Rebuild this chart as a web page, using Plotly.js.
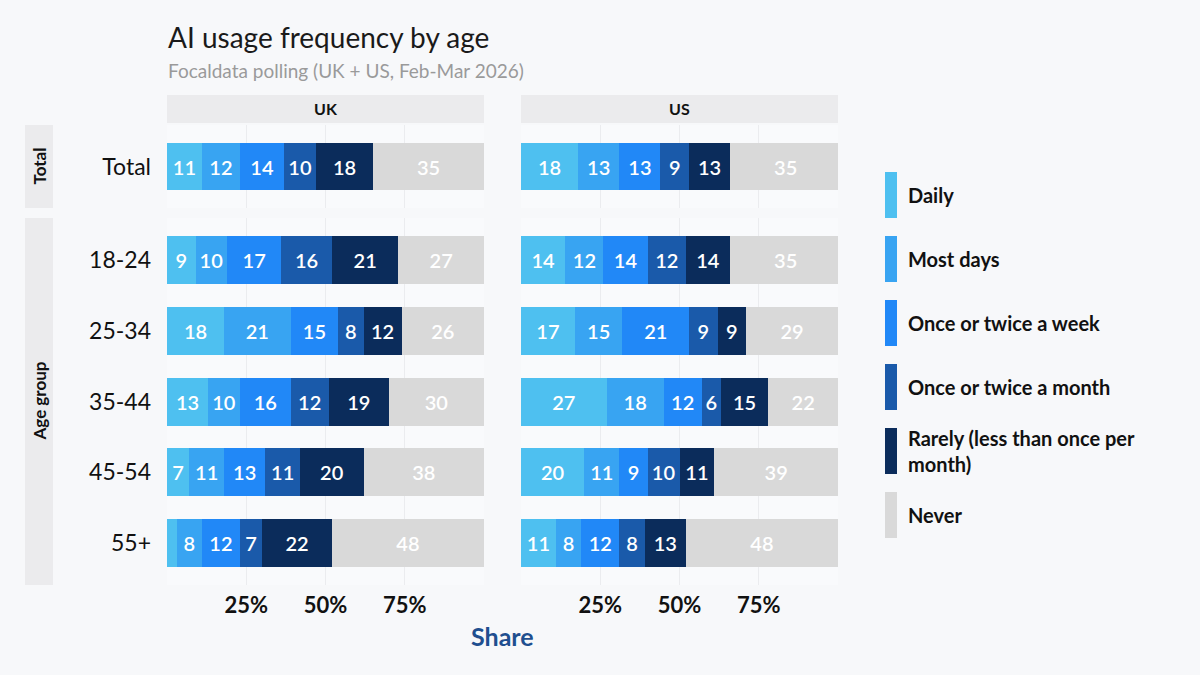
<!DOCTYPE html>
<html>
<head>
<meta charset="utf-8">
<script src="https://cdn.plot.ly/plotly-3.0.1.min.js"></script>
<style>
html,body{margin:0;padding:0;background:#f7f8fa;}
#chart{width:1200px;height:675px;}
</style>
</head>
<body>
<div id="chart"></div>
<script>
// ---- Data ----
const categories = ['Daily', 'Most days', 'Once or twice a week', 'Once or twice a month', 'Rarely (less than once per month)', 'Never'];
const legendLabels = ['Daily', 'Most days', 'Once or twice a week', 'Once or twice a month', 'Rarely (less than once per<br>month)', 'Never'];
const totalGroups = ['Total'];
const ageGroups = ['18-24', '25-34', '35-44', '45-54', '55+'];
const countries = ['UK', 'US'];
const xTickVals = [0, 25, 50, 75, 100];
const xTickText = ['', '25%', '50%', '75%', ''];

// values per row, in category order
const ukTotal = [11, 12, 14, 10, 18, 35];
const usTotal = [18, 13, 13, 9, 13, 35];
const uk18_24 = [9, 10, 17, 16, 21, 27];
const uk25_34 = [18, 21, 15, 8, 12, 26];
const uk35_44 = [13, 10, 16, 12, 19, 30];
const uk45_54 = [7, 11, 13, 11, 20, 38];
const uk55plus = [3, 8, 12, 7, 22, 48];
const us18_24 = [14, 12, 14, 12, 14, 35];
const us25_34 = [17, 15, 21, 9, 9, 29];
const us35_44 = [27, 18, 12, 6, 15, 22];
const us45_54 = [20, 11, 9, 10, 11, 39];
const us55plus = [11, 8, 12, 8, 13, 48];

const ukAgeRows = [uk18_24, uk25_34, uk35_44, uk45_54, uk55plus];
const usAgeRows = [us18_24, us25_34, us35_44, us45_54, us55plus];

// ---- Styles ----
const colors = ['#4ec0f0', '#38a4f2', '#2188f7', '#1a5aaa', '#0b2c5b', '#d9d9d9'];
const FONT = 'Lato, "Open Sans", sans-serif';
const W = 1200, H = 675;
const px = x => x / W;
const py = y => 1 - y / H;

const ukX = [px(167), px(484)];
const usX = [px(521), px(838)];
const totalY = [py(208), py(125)];
const ageY = [py(585), py(218)];

// ---- Traces ----
const traces = [];
function addPanel(rows, groups, xa, ya) {
  categories.forEach((cat, ci) => {
    const vals = rows.map(r => r[ci]);
    traces.push({
      type: 'bar',
      orientation: 'h',
      name: cat,
      x: vals,
      y: groups,
      xaxis: xa,
      yaxis: ya,
      width: 0.68,
      marker: {color: colors[ci], line: {width: 0}},
      text: vals.map(v => v >= 5 ? String(Math.round(v)) : ''),
      textposition: 'inside',
      insidetextanchor: 'middle',
      textangle: 0,
      textfont: {family: FONT, size: 20, color: '#ffffff', weight: 600},
      hoverinfo: 'skip',
      showlegend: false
    });
  });
}
addPanel([ukTotal], totalGroups, 'x', 'y');
addPanel([usTotal], totalGroups, 'x2', 'y2');
addPanel(ukAgeRows, ageGroups, 'x3', 'y3');
addPanel(usAgeRows, ageGroups, 'x4', 'y4');

// ---- Axes ----
function xAxis(domain, anchor, showLabels) {
  return {
    domain: domain, anchor: anchor, range: [0, 100],
    tickvals: xTickVals, ticktext: xTickText,
    showticklabels: showLabels,
    tickfont: {family: FONT, size: 22, color: '#111111', weight: 700},
    ticks: '', ticklabelstandoff: 5,
    showgrid: true, gridcolor: '#ebecef', gridwidth: 1.2,
    zeroline: false, showline: false, fixedrange: true
  };
}
function yAxis(domain, anchor, groups, showLabels) {
  return {
    domain: domain, anchor: anchor, type: 'category',
    categoryorder: 'array', categoryarray: groups,
    range: [groups.length - 0.4, -0.6],
    showticklabels: showLabels,
    tickfont: {family: FONT, size: 23, color: '#111111'},
    ticks: '', ticklabelstandoff: 15,
    showgrid: false, zeroline: false, showline: false, fixedrange: true
  };
}

// ---- Strips, legend ----
const shapes = [];
const annotations = [];
const stripColor = '#ebebed';
[[ukX, countries[0]], [usX, countries[1]]].forEach(([dx, label]) => {
  shapes.push({type: 'rect', xref: 'paper', yref: 'paper', x0: dx[0], x1: dx[1], y0: py(123), y1: py(95), fillcolor: stripColor, line: {width: 0}, layer: 'below'});
  annotations.push({xref: 'paper', yref: 'paper', x: (dx[0] + dx[1]) / 2, y: py(109), text: label, showarrow: false, xanchor: 'center', yanchor: 'middle', font: {family: FONT, size: 16, color: '#111111', weight: 700}});
});
[[totalY, 'Total'], [ageY, 'Age group']].forEach(([dy, label]) => {
  shapes.push({type: 'rect', xref: 'paper', yref: 'paper', x0: px(25), x1: px(53), y0: dy[0], y1: dy[1], fillcolor: stripColor, line: {width: 0}, layer: 'below'});
  annotations.push({xref: 'paper', yref: 'paper', x: px(39), y: (dy[0] + dy[1]) / 2, text: label, showarrow: false, textangle: -90, xanchor: 'center', yanchor: 'middle', font: {family: FONT, size: 17, color: '#111111', weight: 700}});
});
// legend built from the categories/colors
categories.forEach((cat, i) => {
  const cy = 195 + i * 64;
  shapes.push({type: 'rect', xref: 'paper', yref: 'paper', x0: px(885), x1: px(897), y0: py(cy + 23), y1: py(cy - 23), fillcolor: colors[i], line: {width: 0}});
  annotations.push({xref: 'paper', yref: 'paper', x: px(906), y: py(cy), text: legendLabels[i], showarrow: false, xanchor: 'left', yanchor: 'middle', align: 'left', font: {family: FONT, size: 20, color: '#111111', weight: 700}});
});
// titles
annotations.push({xref: 'paper', yref: 'paper', x: px(166), y: py(37), text: 'AI usage frequency by age', showarrow: false, xanchor: 'left', yanchor: 'middle', font: {family: FONT, size: 28, color: '#1a1a1a'}});
annotations.push({xref: 'paper', yref: 'paper', x: px(166), y: py(71), text: 'Focaldata polling (UK + US, Feb-Mar 2026)', showarrow: false, xanchor: 'left', yanchor: 'middle', font: {family: FONT, size: 19, color: '#9a9a9a'}});
annotations.push({xref: 'paper', yref: 'paper', x: px(502.5), y: py(636), text: 'Share', showarrow: false, xanchor: 'center', yanchor: 'middle', font: {family: FONT, size: 25, color: '#1f4f8f', weight: 700}});

const layout = {
  width: W, height: H,
  margin: {l: 0, r: 0, t: 0, b: 0},
  paper_bgcolor: '#f7f8fa',
  plot_bgcolor: '#f9fafc',
  barmode: 'stack',
  bargap: 0.3,
  showlegend: false,
  uniformtext: {mode: 'show', minsize: 20},
  font: {family: FONT},
  xaxis: xAxis(ukX, 'y', false),
  yaxis: yAxis(totalY, 'x', totalGroups, true),
  xaxis2: xAxis(usX, 'y2', false),
  yaxis2: yAxis(totalY, 'x2', totalGroups, false),
  xaxis3: xAxis(ukX, 'y3', true),
  yaxis3: yAxis(ageY, 'x3', ageGroups, true),
  xaxis4: xAxis(usX, 'y4', true),
  yaxis4: yAxis(ageY, 'x4', ageGroups, false),
  shapes: shapes,
  annotations: annotations
};

Plotly.newPlot('chart', traces, layout, {displayModeBar: false, staticPlot: true});
</script>
</body>
</html>
